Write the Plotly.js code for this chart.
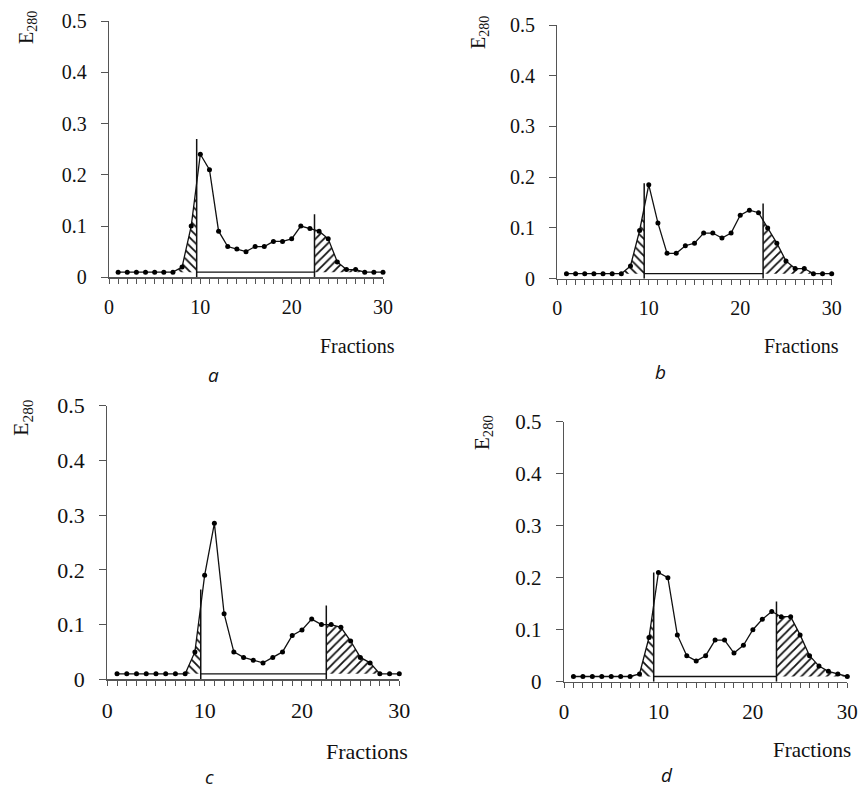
<!DOCTYPE html>
<html><head><meta charset="utf-8">
<script src="https://cdn.plot.ly/plotly-3.0.1.min.js"></script>
<style>html,body{margin:0;padding:0;background:#fff}#chart{width:860px;height:789px}</style>
</head><body><div id="chart"></div>
<script>
// ---------- data ----------
const fractions = [1,2,3,4,5,6,7,8,9,10,11,12,13,14,15,16,17,18,19,20,21,22,23,24,25,26,27,28,29,30];
const panelLabels = ['a', 'b', 'c', 'd'];
const seriesA = [0.01,0.01,0.01,0.01,0.01,0.01,0.01,0.02,0.10,0.24,0.21,0.09,0.06,0.055,0.05,0.06,0.06,0.07,0.07,0.075,0.10,0.095,0.09,0.075,0.03,0.015,0.015,0.01,0.01,0.01];
const seriesB = [0.01,0.01,0.01,0.01,0.01,0.01,0.01,0.025,0.095,0.185,0.11,0.05,0.05,0.065,0.07,0.09,0.09,0.08,0.09,0.125,0.135,0.13,0.10,0.07,0.035,0.02,0.02,0.01,0.01,0.01];
const seriesC = [0.01,0.01,0.01,0.01,0.01,0.01,0.01,0.01,0.05,0.19,0.285,0.12,0.05,0.04,0.035,0.03,0.04,0.05,0.08,0.09,0.11,0.10,0.10,0.095,0.07,0.04,0.03,0.01,0.01,0.01];
const seriesD = [0.01,0.01,0.01,0.01,0.01,0.01,0.01,0.015,0.085,0.21,0.20,0.09,0.05,0.04,0.05,0.08,0.08,0.055,0.07,0.10,0.12,0.135,0.125,0.125,0.09,0.05,0.03,0.02,0.015,0.01];
const baseline = 0.01;
const cutLeft = [9.6, 9.5, 9.6, 9.5];
const cutRight = [22.5, 22.5, 22.5, 22.5];
const cutLeftTop = [0.27, 0.188, 0.164, 0.21];
const cutRightTop = [0.123, 0.148, 0.135, 0.154];
const xTickVals = [0,1,2,3,4,5,6,7,8,9,10,11,12,13,14,15,16,17,18,19,20,21,22,23,24,25,26,27,28,29,30];
const xTickText = ['0','','','','','','','','','','10','','','','','','','','','','20','','','','','','','','','','30'];
const yTickVals = [0, 0.1, 0.2, 0.3, 0.4, 0.5];
const yTickText = ['0', '0.1', '0.2', '0.3', '0.4', '0.5'];
const yTitle = 'E<sub>280</sub>';
const xTitle = 'Fractions';

// ---------- geometry (pixels) ----------
const W = 860, H = 789;
const SERIF = 'Liberation Serif';
const geom = [
  {x0:109, x1:383, yTop:21, yBot:277.3, fs:20, fracX:357, fracY:346, lblX:213, lblY:375, eX:27, eY:28},
  {x0:557.3, x1:831.7, yTop:25, yBot:278.7, fs:20, fracX:801, fracY:346, lblX:660, lblY:372, eX:479, eY:33},
  {x0:107.3, x1:399.3, yTop:405.7, yBot:679.3, fs:22, fracX:367, fracY:751, lblX:209, lblY:777, eX:22, eY:418},
  {x0:564, x1:847.3, yTop:421.7, yBot:681.7, fs:21, fracX:812, fracY:750, lblX:667, lblY:775, eX:483, eY:432}
];
const seriesList = [seriesA, seriesB, seriesC, seriesD];

function interp(xs, ys, x) {
  for (let i = 0; i < xs.length - 1; i++) {
    if (xs[i] <= x && x <= xs[i+1]) {
      const t = (x - xs[i]) / (xs[i+1] - xs[i]);
      return ys[i] + t * (ys[i+1] - ys[i]);
    }
  }
  return ys[ys.length-1];
}
function leftRegion(xs, ys, cut, base) {
  let i = -1;
  for (let k = 0; k < xs.length; k++) if (xs[k] < cut) i = k;
  let j = i;
  while (j > 0 && ys[j] > base) j--;
  const px = [], py = [];
  for (let k = j; k <= i; k++) { px.push(xs[k]); py.push(ys[k]); }
  px.push(cut); py.push(interp(xs, ys, cut));
  px.push(cut); py.push(base);
  px.push(xs[j]); py.push(base);
  return {x: px, y: py};
}
function rightRegion(xs, ys, cut, base) {
  let i = xs.length;
  for (let k = xs.length - 1; k >= 0; k--) if (xs[k] > cut) i = k;
  const px = [cut, cut], py = [base, interp(xs, ys, cut)];
  let j = i;
  while (j < xs.length && ys[j] > base) { px.push(xs[j]); py.push(ys[j]); j++; }
  if (j < xs.length) { px.push(xs[j]); py.push(ys[j]); }
  px.push(px[px.length-1]); py.push(base);
  return {x: px, y: py};
}

const traces = [];
const layout = {
  width: W, height: H, margin: {l:0, r:0, t:0, b:0},
  paper_bgcolor: '#fff', plot_bgcolor: '#fff', showlegend: false,
  font: {family: SERIF, color: '#111'},
  annotations: [], shapes: []
};
const axisColor = '#555';

seriesList.forEach((ys, p) => {
  const g = geom[p];
  const n = p === 0 ? '' : String(p + 1);
  const xa = 'x' + n, ya = 'y' + n;
  const L = leftRegion(fractions, ys, cutLeft[p], baseline);
  const R = rightRegion(fractions, ys, cutRight[p], baseline);
  const hatch = (reg, shape) => ({
    type: 'scatter', x: reg.x, y: reg.y, xaxis: xa, yaxis: ya,
    mode: 'lines', line: {width: 0, color: 'rgba(0,0,0,0)'}, fill: 'toself',
    fillcolor: '#fff',
    fillpattern: {shape: shape, size: 6, solidity: 0.3, fgcolor: '#111', bgcolor: '#fff'},
    hoverinfo: 'skip'
  });
  traces.push(hatch(L, '\\'));
  traces.push(hatch(R, '/'));
  traces.push({type:'scatter', x:[cutLeft[p], cutRight[p]], y:[baseline, baseline], xaxis:xa, yaxis:ya,
    mode:'lines', line:{color:'#111', width:1.3}, hoverinfo:'skip'});
  traces.push({type:'scatter', x:[cutLeft[p], cutLeft[p]], y:[0, cutLeftTop[p]], xaxis:xa, yaxis:ya,
    mode:'lines', line:{color:'#111', width:1.5}, hoverinfo:'skip'});
  traces.push({type:'scatter', x:[cutRight[p], cutRight[p]], y:[0, cutRightTop[p]], xaxis:xa, yaxis:ya,
    mode:'lines', line:{color:'#111', width:1.5}, hoverinfo:'skip'});
  traces.push({type:'scatter', x:fractions, y:ys, xaxis:xa, yaxis:ya,
    mode:'lines+markers', line:{color:'#111', width:1.3}, marker:{color:'#000', size:5},
    cliponaxis:false, name: panelLabels[p]});

  layout['xaxis' + n] = {
    domain: [g.x0 / W, g.x1 / W], anchor: ya, range: [0, 30],
    tickmode: 'array', tickvals: xTickVals, ticktext: xTickText,
    ticks: 'outside', ticklen: 5, tickwidth: 1, tickcolor: axisColor,
    showline: true, linecolor: axisColor, linewidth: 1.2,
    showgrid: false, zeroline: false,
    tickfont: {family: SERIF, size: g.fs, color: '#111'},
    ticklabelstandoff: 6, fixedrange: true
  };
  layout['yaxis' + n] = {
    domain: [1 - g.yBot / H, 1 - g.yTop / H], anchor: xa, range: [0, 0.5],
    tickmode: 'array', tickvals: yTickVals, ticktext: yTickText,
    ticks: 'outside', ticklen: 7, tickwidth: 1, tickcolor: axisColor,
    showline: true, linecolor: axisColor, linewidth: 1.2,
    showgrid: false, zeroline: false,
    tickfont: {family: SERIF, size: g.fs, color: '#111'},
    ticklabelstandoff: 10, fixedrange: true
  };
  layout.annotations.push({
    xref:'paper', yref:'paper', x: g.eX / W, y: 1 - g.eY / H, xanchor:'center', yanchor:'middle',
    text: yTitle, textangle: -90, showarrow: false,
    font: {family: SERIF, size: g.fs, color: '#111'}
  });
  layout.annotations.push({
    xref:'paper', yref:'paper', x: g.fracX / W, y: 1 - g.fracY / H, xanchor:'center', yanchor:'middle',
    text: xTitle, showarrow: false,
    font: {family: SERIF, size: g.fs, color: '#111'}
  });
  layout.annotations.push({
    xref:'paper', yref:'paper', x: g.lblX / W, y: 1 - g.lblY / H, xanchor:'center', yanchor:'middle',
    text: '<i>' + panelLabels[p] + '</i>', showarrow: false,
    font: {family: 'Open Sans', size: 19, color: '#111'}
  });
});

Plotly.newPlot('chart', traces, layout, {staticPlot: true, displayModeBar: false});
</script>
</body></html>
